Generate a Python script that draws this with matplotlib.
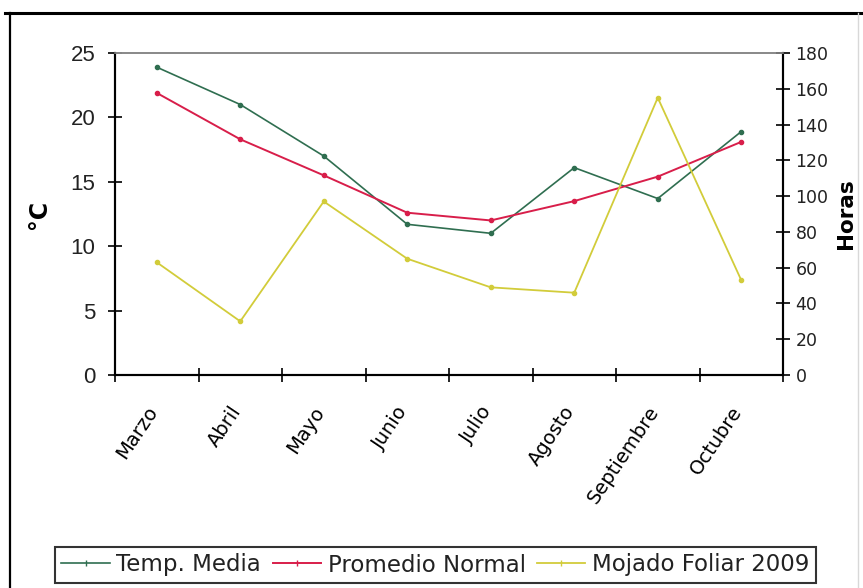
import matplotlib
matplotlib.use("Agg")
import matplotlib.pyplot as plt
from matplotlib.lines import Line2D
from matplotlib.transforms import ScaledTranslation

meses = ["Marzo", "Abril", "Mayo", "Junio", "Julio", "Agosto", "Septiembre", "Octubre"]
temp_media = [23.9, 21.0, 17.0, 11.7, 11.0, 16.1, 13.7, 18.9]
promedio_normal = [21.9, 18.3, 15.5, 12.6, 12.0, 13.5, 15.4, 18.1]
mojado_foliar = [63, 30, 97, 65, 49, 46, 155, 53]

c_temp = "#2f6e50"
c_prom = "#d81e4a"
c_moj = "#d2cc3a"

W, H = 863, 588
fig = plt.figure(figsize=(W / 100, H / 100), dpi=100)
fig.patch.set_facecolor("white")

# page frame: thick top rule and left rule
fig.add_artist(Line2D([5 / W, 1], [1 - 13 / H, 1 - 13 / H], color="black", lw=2.2))
fig.add_artist(Line2D([10 / W, 10 / W], [0, 1 - 13 / H], color="black", lw=1.6))
fig.add_artist(Line2D([858 / W, 858 / W], [0, 1 - 13 / H], color="#d8d8d8", lw=1.0))

left, right, top, bottom = 115, 783, 53, 375
ax = fig.add_axes([left / W, 1 - bottom / H, (right - left) / W, (bottom - top) / H])
ax2 = ax.twinx()

x = list(range(len(meses)))
ax.plot(x, temp_media, color=c_temp, lw=1.2, marker="o", ms=3, label="Temp. Media", zorder=3)
ax.plot(x, promedio_normal, color=c_prom, lw=1.4, marker="o", ms=3, label="Promedio Normal", zorder=3)
ax2.plot(x, mojado_foliar, color=c_moj, lw=1.3, marker="o", ms=3, label="Mojado Foliar 2009")

ax.set_xlim(-0.5, len(meses) - 0.5)
ax.set_ylim(0, 25)
ax2.set_ylim(0, 180)

ax.set_xticks([i - 0.5 for i in range(len(meses) + 1)])
ax.set_xticklabels([])
ax.set_xticks(x, minor=True)
ax.set_xticklabels(meses, minor=True, rotation=56, ha="right", va="top",
                   rotation_mode="anchor", fontsize=14, family="DejaVu Sans")
ax.tick_params(axis="x", which="minor", length=0, pad=20)
ax.tick_params(axis="x", which="major", direction="inout", length=10, width=1.2)
shift = ScaledTranslation(-0.11, 0, fig.dpi_scale_trans)
for lab in ax.xaxis.get_minorticklabels():
    lab.set_transform(lab.get_transform() + shift)

ax.set_yticks([0, 5, 10, 15, 20, 25])
ax.tick_params(axis="y", direction="inout", length=10, width=1.2, labelsize=16, pad=9)
for t in ax.get_yticklabels():
    t.set_family("Liberation Sans")
    t.set_color("#222222")

ax2.set_yticks(range(0, 181, 20))
ax2.tick_params(axis="y", direction="inout", length=10, width=1.2, labelsize=12.5, pad=4)
for t in ax2.get_yticklabels():
    t.set_family("DejaVu Sans")
    t.set_color("#222222")

for a in (ax, ax2):
    a.spines["top"].set_color("#888888")
    a.spines["top"].set_linewidth(1.2)
    a.spines["left"].set_linewidth(1.5)
    a.spines["right"].set_linewidth(1.5)
    a.spines["bottom"].set_linewidth(1.5)
ax.patch.set_visible(False)

ax.set_ylabel("°C", fontsize=17, fontweight="bold", labelpad=14)
ax2.set_ylabel("Horas", fontsize=15.5, fontweight="bold", labelpad=5)

handles = [
    Line2D([], [], color=c_temp, lw=1.2, marker="|", ms=4),
    Line2D([], [], color=c_prom, lw=1.4, marker="|", ms=4),
    Line2D([], [], color=c_moj, lw=1.3, marker="|", ms=4),
]
labels = ["Temp. Media", "Promedio Normal", "Mojado Foliar 2009"]
leg = fig.legend(handles, labels, loc="center", ncol=3,
                 bbox_to_anchor=((53 + 818) / 2 / W, 1 - 565 / H),
                 frameon=True, fancybox=False, edgecolor="black",
                 fontsize=16.5, handlelength=2.1, handletextpad=0.3,
                 columnspacing=0.5, borderpad=0.3, borderaxespad=0)
leg.get_frame().set_linewidth(1.5)
for t in leg.get_texts():
    t.set_family("DejaVu Sans")
    t.set_color("#222222")

fig.savefig("out.png", dpi=100, facecolor="white")
